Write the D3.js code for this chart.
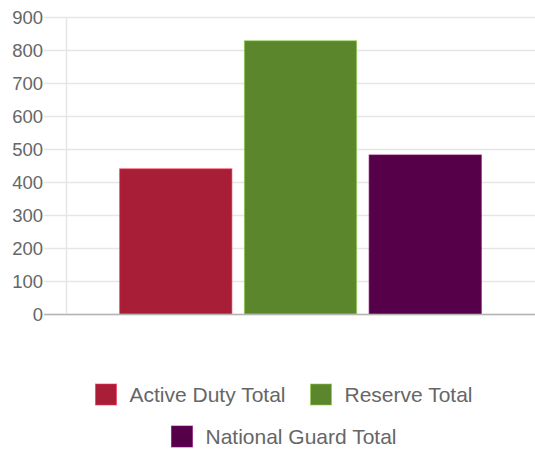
<!DOCTYPE html>
<html>
<head>
<meta charset="utf-8">
<script src="https://cdn.jsdelivr.net/npm/d3@7"></script>
<style>
  body { margin: 0; background: #fff; }
  text { font-family: "Liberation Sans", Arial, sans-serif; fill: #666; }
</style>
</head>
<body>
<div id="chart"></div>
<script>
var seriesNames = ["Active Duty Total", "Reserve Total", "National Guard Total"];
var seriesValues = [440, 828, 482];
var seriesColors = ["#a91e37", "#5b862b", "#57004a"];
var yTicks = [0, 100, 200, 300, 400, 500, 600, 700, 800, 900];

var width = 535, height = 449;
var margin = { top: 17, right: 0, bottom: 135, left: 66 };

var svg = d3.select("#chart").append("svg")
    .attr("width", width)
    .attr("height", height);

var y = d3.scaleLinear()
    .domain([0, 900])
    .range([height - margin.bottom, margin.top]);

var x = d3.scaleBand()
    .domain(seriesNames)
    .range([margin.left, width - margin.right])
    .paddingInner(0.1)
    .paddingOuter(0.43);

// horizontal grid + tick labels
var grid = svg.append("g");
grid.selectAll("line.h")
    .data(yTicks)
    .enter().append("line")
    .attr("class", "h")
    .attr("x1", 44)
    .attr("x2", width)
    .attr("y1", function(d){ return Math.round(y(d)) + 0.5; })
    .attr("y2", function(d){ return Math.round(y(d)) + 0.5; })
    .attr("stroke", "#e6e6e6")
    .attr("stroke-width", 1.5);

grid.selectAll("text")
    .data(yTicks)
    .enter().append("text")
    .attr("x", 43)
    .attr("y", function(d){ return y(d); })
    .attr("dy", "0.36em")
    .attr("text-anchor", "end")
    .attr("font-size", 18.5)
    .text(function(d){ return d; });

// vertical gridline at the category edge
svg.append("line")
    .attr("x1", margin.left + 0.5)
    .attr("x2", margin.left + 0.5)
    .attr("y1", margin.top)
    .attr("y2", y(0))
    .attr("stroke", "#e6e6e6")
    .attr("stroke-width", 1.5);

// bars
svg.append("g").selectAll("rect")
    .data(seriesNames)
    .enter().append("rect")
    .attr("x", function(d){ return x(d); })
    .attr("y", function(d, i){ return y(seriesValues[i]); })
    .attr("width", x.bandwidth())
    .attr("height", function(d, i){ return y(0) - y(seriesValues[i]); })
    .attr("fill", function(d, i){ return seriesColors[i]; })
    .attr("stroke", function(d, i){ return d3.color(seriesColors[i]).brighter(1.2); })
    .attr("stroke-opacity", 0.6)
    .attr("stroke-width", 1);

// zero line on top of the bars
svg.append("line")
    .attr("x1", 44)
    .attr("x2", width)
    .attr("y1", Math.round(y(0)) + 0.5)
    .attr("y2", Math.round(y(0)) + 0.5)
    .attr("stroke", "#b5b5b5")
    .attr("stroke-width", 1.5);

// legend, two rows centered
var legendRows = [[0, 1], [2]];
var boxSize = 21, boxGap = 13, itemGap = 25, fontSize = 21;
var rowTops = [384, 426];

legendRows.forEach(function(row, r){
    var g = svg.append("g");
    var cursor = 0;
    row.forEach(function(i){
        var item = g.append("g").attr("transform", "translate(" + cursor + ",0)");
        item.append("rect")
            .attr("x", 0)
            .attr("y", rowTops[r])
            .attr("width", boxSize)
            .attr("height", boxSize)
            .attr("fill", seriesColors[i])
            .attr("stroke", d3.color(seriesColors[i]).brighter(1.2))
            .attr("stroke-opacity", 0.6);
        var t = item.append("text")
            .attr("x", boxSize + boxGap)
            .attr("y", rowTops[r] + boxSize / 2)
            .attr("dy", "0.36em")
            .attr("font-size", fontSize)
            .text(seriesNames[i]);
        cursor += boxSize + boxGap + t.node().getComputedTextLength() + itemGap;
    });
    var total = cursor - itemGap;
    g.attr("transform", "translate(" + (284 - total / 2) + ",0)");
});
</script>
</body>
</html>
